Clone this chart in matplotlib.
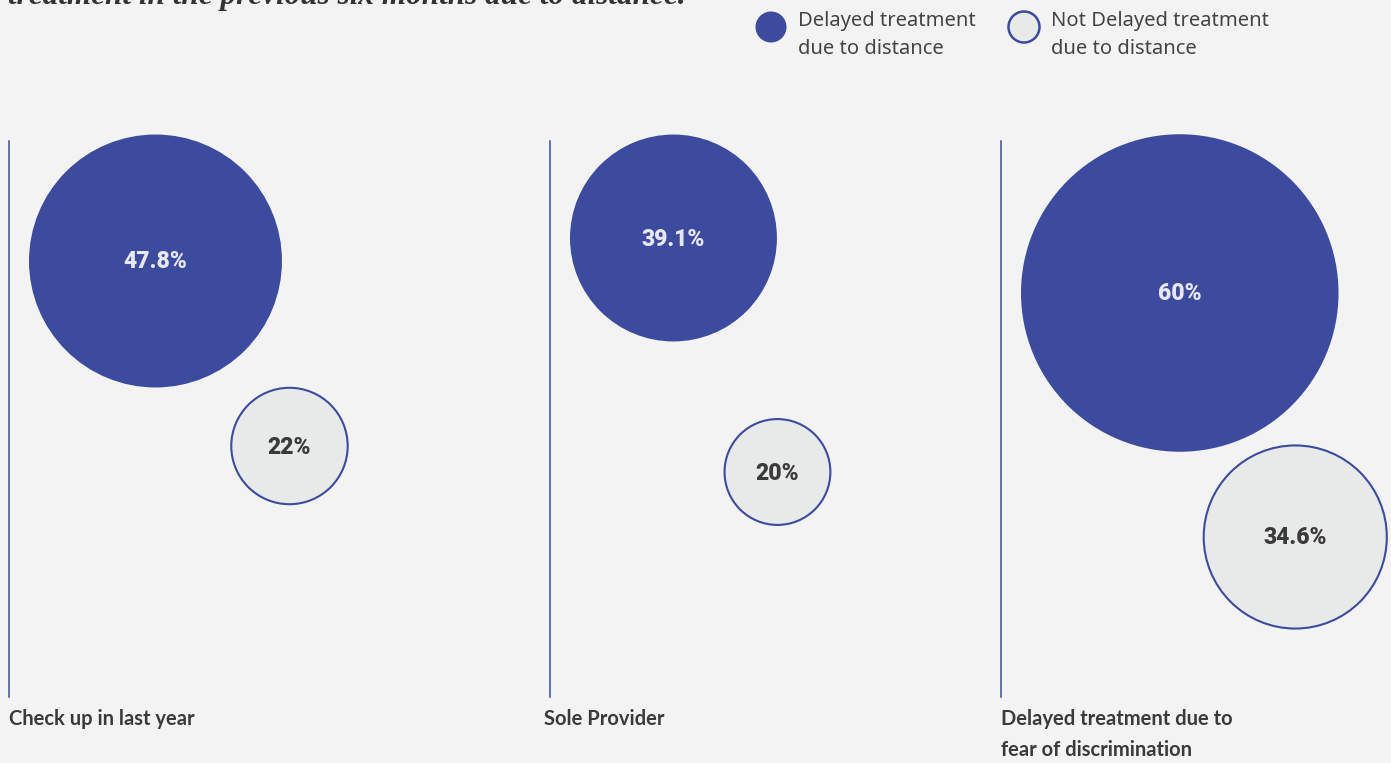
import matplotlib.pyplot as plt
from matplotlib.patches import Circle

# survey shares per question
categories = ['Check up in last year', 'Sole Provider',
              'Delayed treatment due to\nfear of discrimination']
delayed = [47.8, 39.1, 60]
not_delayed = [22, 20, 34.6]
value_labels_delayed = ['47.8%', '39.1%', '60%']
value_labels_not = ['22%', '20%', '34.6%']

# layout of each panel (pixels): divider x, label x, delayed circle centre y,
# offset of the second circle from the first
panel_x = [9, 550, 1001]
label_x = [9, 544, 1001]
big_cy = [261, 238, 293]
small_offset = [(134, 185), (104, 234), (115.5, 244)]

px_per_pct = 2.646  # circle radius grows linearly with the share

dark = '#3c4b9e'
light = '#e8eaea'
bg = '#f3f3f3'

fig = plt.figure(figsize=(13.91, 7.63), dpi=100, facecolor=bg)
ax = fig.add_axes([0, 0, 1, 1])
ax.set_xlim(0, 1391)
ax.set_ylim(763, 0)
ax.set_aspect('equal')
ax.axis('off')
ax.set_facecolor(bg)

# title cut at the top edge
ax.text(8, 4, 'treatment in the previous six months due to distance.',
        family='Liberation Serif', style='italic', weight='bold',
        fontsize=22.5, color='#333333', ha='left', va='baseline')

for i, cat in enumerate(categories):
    x0 = panel_x[i]
    ax.plot([x0, x0], [141, 697], color=dark, lw=1.1)

    r1 = delayed[i] * px_per_pct
    cx1 = x0 + 20 + r1
    cy1 = big_cy[i]
    ax.add_patch(Circle((cx1, cy1), r1, facecolor=dark, edgecolor='none'))
    ax.text(cx1, cy1 + 1, value_labels_delayed[i], family='Roboto', weight='heavy',
            fontsize=16.5, color='#e6e7f0', ha='center', va='center')

    r2 = not_delayed[i] * px_per_pct
    cx2 = cx1 + small_offset[i][0]
    cy2 = cy1 + small_offset[i][1]
    ax.add_patch(Circle((cx2, cy2), r2, facecolor=light, edgecolor=dark, lw=1.5))
    ax.text(cx2, cy2 + 1, value_labels_not[i], family='Roboto', weight='heavy',
            fontsize=16.5, color='#3a3a3a', ha='center', va='center')

    ax.text(label_x[i], 709, cat, family='Lato', weight='bold', fontsize=14.5,
            color='#3a3a3a', ha='left', va='top', linespacing=1.7)

# legend
ax.add_patch(Circle((771, 27), 15.5, facecolor=dark, edgecolor='none'))
ax.text(798, 35, 'Delayed treatment\ndue to distance', family='Noto Sans',
        fontsize=14.5, color='#444444', ha='left', va='center', linespacing=1.55)
ax.add_patch(Circle((1024, 27), 15.5, facecolor=light, edgecolor=dark, lw=1.8))
ax.text(1051, 35, 'Not Delayed treatment\ndue to distance', family='Noto Sans',
        fontsize=14.5, color='#444444', ha='left', va='center', linespacing=1.55)

fig.savefig('out.png', dpi=100, facecolor=bg)
